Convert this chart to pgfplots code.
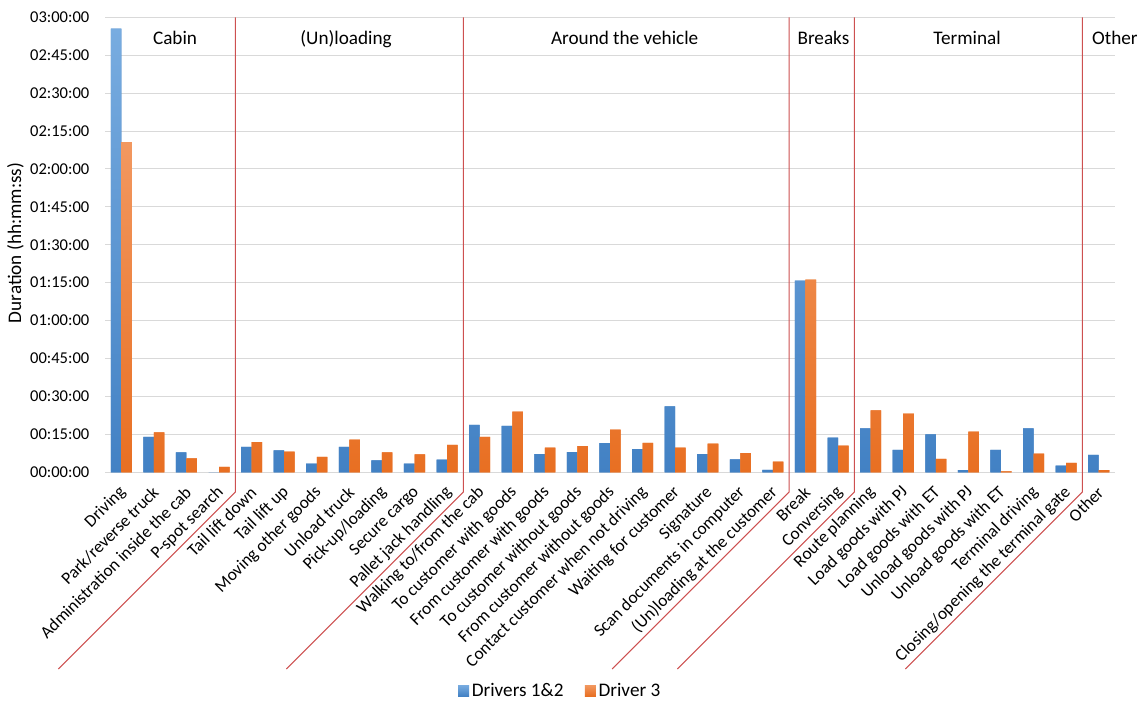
\documentclass[border=0pt]{standalone}
\usepackage{pgfplots}
\usepackage{pgfplotstable}
\pgfplotsset{compat=1.18}
\usepackage{fontspec}
\setmainfont{Carlito}

\definecolor{bluetop}{RGB}{120,172,224}
\definecolor{bluebot}{RGB}{66,129,196}
\definecolor{orangetop}{RGB}{242,152,96}
\definecolor{orangebot}{RGB}{232,111,34}
\definecolor{gridgray}{RGB}{217,217,217}
\definecolor{sepred}{RGB}{205,80,80}

\newcommand\tickfont{\fontsize{12.4}{14}\selectfont}
\newcommand\catfont{\fontsize{13}{15}\selectfont}
\newcommand\bigfont{\fontsize{14.4}{17}\selectfont}

% Mean duration per activity, in minutes
\pgfplotstableread{
idx d12   d3
0   175.5 130.6
1   14.0  15.8
2   7.9   5.5
3   0.0   2.1
4   10.0  11.9
5   8.7   8.2
6   3.4   6.1
7   10.0  12.9
8   4.75  7.9
9   3.4   7.1
10  5.0   10.8
11  18.7  14.0
12  18.4  24.0
13  7.2   9.7
14  8.0   10.3
15  11.5  16.9
16  9.2   11.6
17  26.1  9.7
18  7.2   11.3
19  5.1   7.6
20  0.9   4.2
21  75.8  76.2
22  13.7  10.5
23  17.4  24.5
24  8.9   23.2
25  15.0  5.3
26  0.8   16.1
27  8.9   0.4
28  17.4  7.4
29  2.6   3.7
30  6.9   0.8
}\durations

\begin{document}
\begin{tikzpicture}
\useasboundingbox (0,0) rectangle (856.5pt,525pt);
\begin{axis}[
  at={(78.75pt,170.8pt)}, anchor=south west,
  scale only axis, width=757.5pt, height=341.25pt,
  ybar=0pt, bar width=7.9pt,
  xmin=-0.5, xmax=30.5, ymin=0, ymax=180,
  clip=false,
  axis line style={draw=none},
  major tick length=0pt,
  ymajorgrids, grid style={gridgray, line width=0.75pt},
  ytick={0,15,...,180},
  yticklabels={00:00:00,00:15:00,00:30:00,00:45:00,01:00:00,01:15:00,01:30:00,01:45:00,02:00:00,02:15:00,02:30:00,02:45:00,03:00:00},
  yticklabel style={font=\tickfont, anchor=east, inner sep=0pt, xshift=-11.6pt},
  xtick={0,...,30},
  xticklabels={Driving,Park/reverse truck,Administration inside the cab,P-spot search,
    Tail lift down,Tail lift up,Moving other goods,Unload truck,Pick-up/loading,Secure cargo,Pallet jack handling,
    Walking to/from the cab,To customer with goods,From customer with goods,To customer without goods,From customer without goods,Contact customer when not driving,Waiting for customer,Signature,Scan documents in computer,(Un)loading at the customer,
    Break,Conversing,
    Route planning,Load goods with PJ,Load goods with ET,Unload goods with PJ,Unload goods with ET,Terminal driving,Closing/opening the terminal gate,
    Other},
  xticklabel style={font=\catfont, xshift=1.5pt, yshift=-13pt, rotate=45, anchor=east, inner sep=0pt},
  ylabel={Duration (hh:mm:ss)},
  ylabel style={font=\bigfont, at={(axis description cs:-0.0886,0.504)}, anchor=center},
  legend columns=2,
  legend style={at={(axis description cs:0.451,-0.480)}, anchor=center, draw=none,
    font=\bigfont, inner sep=0pt,
    /tikz/every even column/.append style={column sep=14pt},
    nodes={inner sep=2pt}},
]
\addplot[draw=none, fill=bluebot, top color=bluetop, bottom color=bluebot,
  legend image code/.code={\fill[bluebot, top color=bluetop, bottom color=bluebot] (0pt,-4.1pt) rectangle (8.3pt,4.2pt);}]
  table[x=idx, y=d12] {\durations};
\addlegendentry{Drivers 1\&2}
\addplot[draw=none, fill=orangebot, top color=orangetop, bottom color=orangebot,
  legend image code/.code={\fill[orangebot, top color=orangetop, bottom color=orangebot] (0pt,-4.1pt) rectangle (8.3pt,4.2pt);}]
  table[x=idx, y=d3] {\durations};
\addlegendentry{Driver 3}

% group separators: vertical through the plot, then along the slanted labels
\pgfplotsinvokeforeach{3.5,10.5,20.5,22.5,29.5}{
  \draw[sepred, line width=0.75pt] (axis cs:#1,180) -- (axis cs:#1,0) -- ++(0pt,-14.8pt) -- ++(-132.75pt,-132.75pt);
}

% group titles
\node[font=\bigfont, anchor=base] at (axis cs:1.65,169.1) {Cabin};
\node[font=\bigfont, anchor=base] at (axis cs:6.9,169.1) {(Un)loading};
\node[font=\bigfont, anchor=base] at (axis cs:15.45,169.1) {Around the vehicle};
\node[font=\bigfont, anchor=base] at (axis cs:21.55,169.1) {Breaks};
\node[font=\bigfont, anchor=base] at (axis cs:25.96,169.1) {Terminal};
\node[font=\bigfont, anchor=base west, inner sep=0pt] at (axis cs:29.79,169.1) {Other};
\end{axis}
\end{tikzpicture}
\end{document}
